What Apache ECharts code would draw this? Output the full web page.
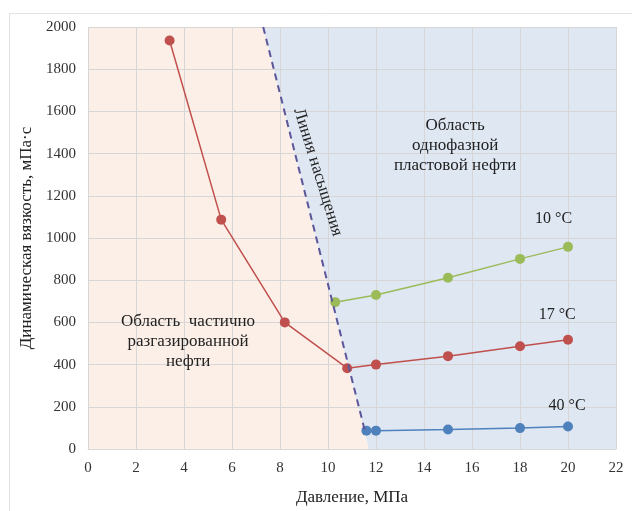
<!DOCTYPE html>
<html>
<head>
<meta charset="utf-8">
<script src="https://cdn.jsdelivr.net/npm/echarts@6/dist/echarts.min.js"></script>
</head>
<body style="margin:0;background:#fff">
<div id="main" style="width:632px;height:511px"></div>
<script>
// данные
var p10 = [10.3, 12, 15, 18, 20];
var mu10 = [696, 730, 812, 901, 958];
var p17 = [3.4, 5.55, 8.2, 10.8, 12, 15, 18, 20];
var mu17 = [1936, 1087, 600, 383, 400, 440, 487, 518];
var p40 = [11.6, 12, 15, 18, 20];
var mu40 = [87, 87, 92, 99, 107];
// линия насыщения
var satP = [7.3, 11.55];
var satMu = [2000, 80];
// граница областей (по линии насыщения до оси)
var zoneTop = 7.3, zoneBottom = 11.7;

function pairs(xs, ys) {
  return xs.map(function (x, i) { return [x, ys[i]]; });
}

var font = '"Liberation Serif", "Times New Roman", serif';
var myChart = echarts.init(document.getElementById('main'));

function lineSeries(name, xs, ys, color) {
  return {
    name: name,
    type: 'line',
    data: pairs(xs, ys),
    symbol: 'circle',
    symbolSize: 10,
    lineStyle: { color: color, width: 1.5 },
    itemStyle: { color: color },
    z: 3
  };
}

myChart.setOption({
  animation: false,
  grid: { left: 88, right: 16, top: 27, bottom: 54 },
  xAxis: {
    type: 'value', min: 0, max: 22, interval: 2,
    name: 'Давление, МПа', nameLocation: 'middle', nameGap: 40,
    nameTextStyle: { fontFamily: font, fontSize: 17, color: '#222' },
    axisLine: { lineStyle: { color: '#d9d9d9' } },
    axisTick: { show: false },
    axisLabel: { fontFamily: font, fontSize: 15, color: '#333', margin: 12 },
    splitLine: { lineStyle: { color: '#d6d6d6' } }
  },
  yAxis: {
    type: 'value', min: 0, max: 2000, interval: 200,
    name: 'Динамическая вязкость, мПа·с', nameLocation: 'middle', nameGap: 50,
    nameTextStyle: { fontFamily: font, fontSize: 17, color: '#222' },
    axisLine: { show: false },
    axisTick: { show: false },
    axisLabel: {
      fontFamily: font, fontSize: 15, color: '#333', margin: 12,
      formatter: function (v) { return String(v); }
    },
    splitLine: { lineStyle: { color: '#d6d6d6' } }
  },
  series: [
    {
      type: 'custom',
      silent: true,
      z: -1,
      data: [[zoneTop, zoneBottom]],
      renderItem: function (params, api) {
        var a = api.value(0), b = api.value(1);
        var pts1 = [[0, 2000], [a, 2000], [b, 0], [0, 0]].map(function (p) { return api.coord(p); });
        var pts2 = [[a, 2000], [22, 2000], [22, 0], [b, 0]].map(function (p) { return api.coord(p); });
        return {
          type: 'group',
          children: [
            { type: 'polygon', shape: { points: pts1 }, style: { fill: '#fcefe7' } },
            { type: 'polygon', shape: { points: pts2 }, style: { fill: '#dfe7f3' } }
          ]
        };
      }
    },
    {
      type: 'line',
      data: pairs(satP, satMu),
      symbol: 'none',
      lineStyle: { color: '#5b559a', width: 2, type: [7, 5] },
      z: 4
    },
    lineSeries('10 °C', p10, mu10, '#9bbb59'),
    lineSeries('17 °C', p17, mu17, '#c0504d'),
    lineSeries('40 °C', p40, mu40, '#4f81bd')
  ]
});

// подписи, привязанные к координатам данных
var notes = [
  { t: 'Область\nоднофазной\nпластовой нефти', x: 15.3, y: 1437, r: 0, s: 17 },
  { t: 'Область  частично\nразгазированной\nнефти', x: 4.17, y: 507, r: 0, s: 17 },
  { t: 'Линия насыщения', x: 9.58, y: 1312, r: -1.27, s: 17 },
  { t: '10 °C', x: 19.4, y: 1093, r: 0, s: 16 },
  { t: '17 °C', x: 19.55, y: 634, r: 0, s: 16 },
  { t: '40 °C', x: 19.96, y: 206, r: 0, s: 16 }
];
var graphics = notes.map(function (n) {
  var p = myChart.convertToPixel({ gridIndex: 0 }, [n.x, n.y]);
  return {
    type: 'text', x: p[0], y: p[1], rotation: n.r, z: 10,
    style: {
      text: n.t, fontFamily: font, fontSize: n.s, fill: '#222',
      align: 'center', verticalAlign: 'middle', lineHeight: 20
    }
  };
});
// рамка области диаграммы
graphics.push({ type: 'line', shape: { x1: 9, y1: 13.5, x2: 632, y2: 13.5 }, style: { stroke: '#e3e3e3', lineWidth: 1 } });
graphics.push({ type: 'line', shape: { x1: 9.5, y1: 13, x2: 9.5, y2: 511 }, style: { stroke: '#e3e3e3', lineWidth: 1 } });
myChart.setOption({ graphic: graphics });
</script>
</body>
</html>
